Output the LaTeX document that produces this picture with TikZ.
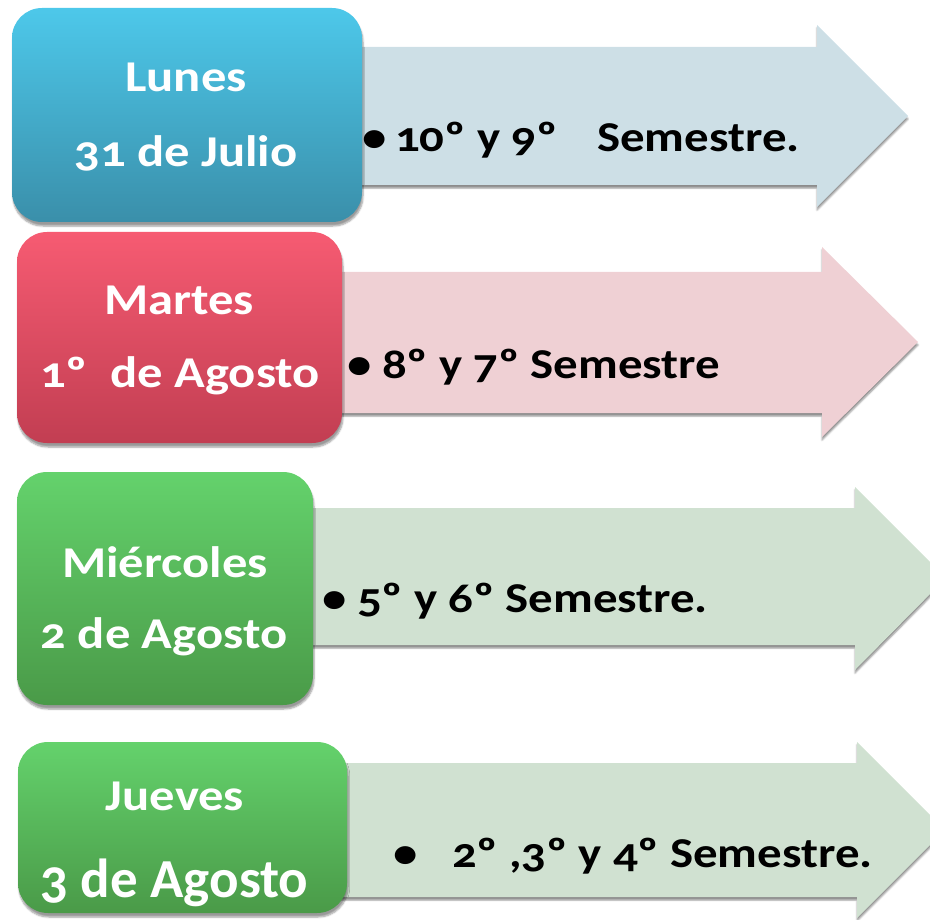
\documentclass[tikz,border=0pt]{standalone}
\usepackage{fontspec}
\newfontfamily\cf{Carlito}[Numbers=OldStyle, FakeStretch=1.15]
\newfontfamily\cfn{Carlito}[Numbers=OldStyle]
\usetikzlibrary{shadows.blur}
\definecolor{bTop}{HTML}{4DC8EA}\definecolor{bBot}{HTML}{3A8FAA}
\definecolor{rTop}{HTML}{F65B72}\definecolor{rBot}{HTML}{C23E52}
\definecolor{gTop}{HTML}{64D26C}\definecolor{gBot}{HTML}{4A9A48}
\definecolor{aBlue}{HTML}{CDDFE6}
\definecolor{aRed}{HTML}{EFD0D4}
\definecolor{aGreen}{HTML}{D0E1D1}
\tikzset{
  daybox/.style={rounded corners=30pt, draw=none, inner sep=0pt,
    blur shadow={shadow xshift=1pt, shadow yshift=-4pt, shadow blur steps=6, shadow opacity=40}},
  arrowshape/.style={draw=none,
    blur shadow={shadow xshift=0pt, shadow yshift=-3pt, shadow blur steps=4, shadow opacity=45}},
  daytext/.style={text=white, inner sep=0pt, anchor=base, font=\cf\bfseries\fontsize{44}{50}\selectfont},
  semtext/.style={text=black, inner sep=0pt, anchor=base west, font=\cf\bfseries\fontsize{42.5}{48}\selectfont},
}
\begin{document}
\begin{tikzpicture}[x=1pt,y=-1pt]
\useasboundingbox (0,0) rectangle (930,920);
\clip (0,0) rectangle (930,920);
% arrows
\fill[aBlue, arrowshape] (200,47) -- (817,47) -- (817,25) -- (908,116) -- (817,207) -- (817,185) -- (200,185) -- cycle;
\fill[aRed, arrowshape] (200,272) -- (822,272) -- (822,247) -- (918,342) -- (822,437) -- (822,413) -- (200,413) -- cycle;
\fill[aGreen, arrowshape] (200,508) -- (855,508) -- (855,487) -- (946,578) -- (855,670) -- (855,645) -- (200,645) -- cycle;
\fill[aGreen, arrowshape] (200,763) -- (857,763) -- (857,742) -- (945,830) -- (857,918) -- (857,897) -- (200,897) -- cycle;
% day boxes
\node[daybox, top color=bTop, bottom color=bBot, minimum width=350pt, minimum height=214pt] (b1) at (187,115) {};
\node[daybox, top color=rTop, bottom color=rBot, minimum width=325pt, minimum height=211pt] (b2) at (179.5,337.5) {};
\node[daybox, top color=gTop, bottom color=gBot, minimum width=296pt, minimum height=233pt] (b3) at (165,588.5) {};
\node[daybox, top color=gTop, bottom color=gBot, minimum width=329pt, minimum height=171pt] (b4) at (182.5,827.5) {};
% day texts
\node[daytext] (d1a) at (186,92) {Lunes};
\node[daytext] (d1b) at (186,167) {31 de Julio};
\node[daytext] (d2a) at (179,315) {Martes};
\node[daytext] (d2b) at (180,388) {1º\ \ de Agosto};
\node[daytext] (d3a) at (165,577) {Miércoles};
\node[daytext] (d3b) at (164,648) {2 de Agosto};
\node[daytext] (d4a) at (175,810) {Jueves};
\node[daytext, font=\cfn\bfseries\fontsize{55}{60}\selectfont] (d4b) at (174.5,897) {3 de Agosto};
% semester texts
\node[semtext] (s1) at (362,152) {\makebox[33pt][l]{•}10º y 9º\hspace{40pt}Semestre.};
\node[semtext] (s2) at (347,378) {\makebox[35pt][l]{•}8º y 7º Semestre};
\node[semtext] (s3) at (322,612) {\makebox[35pt][l]{•}5º y 6º Semestre.};
\node[semtext] (s4) at (393,867) {\makebox[59pt][l]{•}2º ,3º y 4º Semestre.};
\end{tikzpicture}
\end{document}
